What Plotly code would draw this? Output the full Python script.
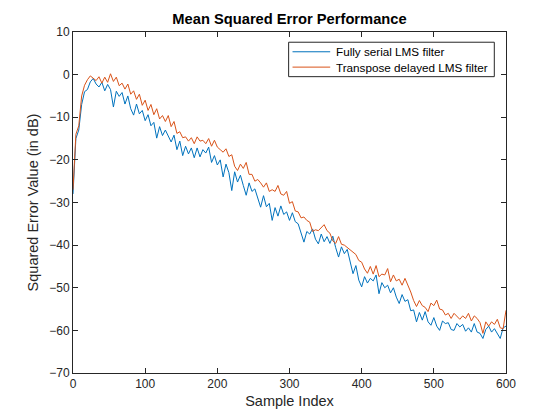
import plotly.graph_objects as go

# Readings every 4 samples (0..600)
fully_serial_db = [
    -28, -15, -13, -7, -4, -3.5, -1.7, -0.9, -2.2, -2.9,
    -1.8, -3.8, -2.3, -3.5, -7.6, -3.9, -5.1, -4.2, -6.9, -5.0,
    -8.0, -9.5, -6.9, -9.2, -8.4, -10.8, -9.4, -12.0, -11.2, -14.9,
    -12.2, -14.3, -13.0, -14.6, -15.8, -14.2, -17.6, -15.6, -19, -16.8,
    -18.6, -17.2, -19.5, -17.2, -19.3, -17.6, -18.4, -17.0, -20.6, -19.0,
    -21.2, -20.0, -24, -21.0, -23.0, -27.2, -22.8, -25.2, -23.6, -26.0,
    -28.3, -25.4, -27.4, -26.8, -29.0, -31.1, -28.4, -31.0, -30.2, -34.2,
    -31.2, -33.2, -30.8, -32.8, -32.2, -34.2, -32.4, -34.5, -35.0, -37.3,
    -39.3, -36.8, -37.4, -36.2, -38.6, -39.7, -37.4, -39.2, -38.0, -39.6,
    -37.9, -40.6, -42.8, -40.4, -42.0, -41.0, -44.2, -46.7, -44.8, -48.2,
    -49.8, -47.4, -48.9, -47.8, -48.4, -47.0, -51.4, -48.8, -50.0, -49.4,
    -51.2, -50.0, -52.2, -53.7, -51.6, -53.2, -52.8, -55.4, -55.2, -58,
    -55.8, -57.6, -55.6, -58.0, -58.8, -57.0, -59.0, -60, -57.8, -58.4,
    -58.2, -59.8, -60, -58.4, -59.2, -58.6, -60.2, -59.4, -60.4, -58.4,
    -60.4, -60.7, -61.9, -59.8, -59.0, -60.4, -59.6, -60.6, -61.9, -59.4,
    -59,
]

transpose_delayed_db = [
    -27, -14, -12, -5, -2.5, -1.2, -0.3, -0.8, -1.4, -0.5,
    -2.0, -0.6, -1.8, 0.2, -1.6, -0.6, -2.6, -2.0, -3.4, -2.2,
    -4.6, -3.8, -5.8, -4.6, -7.2, -6.0, -8.4, -7.0, -9.4, -8.0,
    -10.4, -9.6, -11.0, -9.6, -12.2, -11.0, -13.8, -13.4, -14.8, -14.6,
    -15.6, -14.8, -16.2, -14.6, -15.6, -15.4, -16.2, -15.0, -16.8, -15.4,
    -17.0, -17.6, -18.2, -17.4, -19.2, -18.8, -21.5, -22.5, -21.0, -22.0,
    -20.6, -23.4, -23.4, -25.0, -24.6, -25.4, -26.4, -25.4, -27.4, -27.0,
    -27.4, -26.0, -28.0, -28.3, -27.4, -30.2, -29.8, -32.0, -32.2, -33.6,
    -33.4, -34.2, -34.6, -36.8, -36.4, -36.6, -35.8, -35.2, -36.6, -37.2,
    -39.0, -39.6, -38.0, -39.8, -40.0, -40.6, -41.0, -41.8, -42.2, -43.6,
    -44.0, -45.6, -46.6, -45.0, -46.8, -44.8, -47.4, -46.8, -47.0, -45.5,
    -48.6, -47.0, -48.4, -48.0, -49.4, -47.8, -49.2, -51, -53, -54.4,
    -53.0, -54.2, -54.6, -55.6, -53.6, -54.2, -52.9, -55.0, -55.2, -56.4,
    -56.0, -57.2, -56.0, -56.6, -57.4, -56.6, -57.2, -56.0, -57.8, -56.6,
    -57.2, -58.2, -60.7, -58.0, -59.0, -58.0, -58.6, -57.4, -59.4, -59.6,
    -55.3,
]

sample_index = list(range(0, 601, 4))

series_names = ["Fully serial LMS filter", "Transpose delayed LMS filter"]
series_colors = ["#0072BD", "#D95319"]

x_ticks = [0, 100, 200, 300, 400, 500, 600]
y_ticks = [-70, -60, -50, -40, -30, -20, -10, 0, 10]

FONT = "Liberation Sans, Arial, Helvetica, sans-serif"
AX = "#262626"

fig = go.Figure()
for name, color, vals in zip(series_names, series_colors,
                             [fully_serial_db, transpose_delayed_db]):
    fig.add_trace(go.Scatter(x=sample_index, y=vals, mode="lines", name=name,
                             line=dict(color=color, width=1), showlegend=False))

# MATLAB-style compact legend box (drawn in paper coordinates)
fig.add_shape(type="rect", xref="paper", yref="paper",
              x0=0.498, x1=0.973, y0=0.869, y1=0.970,
              line=dict(color=AX, width=1), fillcolor="white", layer="above")
legend_rows_y = [0.942, 0.897]
for name, color, yy in zip(series_names, series_colors, legend_rows_y):
    fig.add_shape(type="line", xref="paper", yref="paper",
                  x0=0.507, x1=0.594, y0=yy, y1=yy,
                  line=dict(color=color, width=1), layer="above")
    fig.add_annotation(x=0.602, y=yy, xref="paper", yref="paper",
                       text=name, showarrow=False, xanchor="left",
                       yanchor="middle",
                       font=dict(family=FONT, size=11.7, color="black"))

axis_common = dict(showgrid=False, zeroline=False, showline=True, linecolor=AX,
                   linewidth=1, mirror="ticks", ticks="inside", ticklen=5,
                   tickcolor=AX, tickfont=dict(family=FONT, size=12, color=AX))

fig.update_layout(
    width=560, height=420,
    margin=dict(l=65, r=62, t=24, b=55),
    paper_bgcolor="white", plot_bgcolor="white",
    font=dict(family=FONT, color=AX),
    title=dict(text="<b>Mean Squared Error Performance</b>", x=0.5, xref="paper",
               y=1 - 11 / 420, yref="container", yanchor="middle",
               font=dict(family=FONT, size=14.7, color="black")),
    xaxis=dict(range=[0, 600], tickvals=x_ticks,
               title=dict(text="Sample Index", standoff=5,
                          font=dict(family=FONT, size=14.5, color=AX)),
               **axis_common),
    yaxis=dict(range=[-70, 10], tickvals=y_ticks,
               title=dict(text="Squared Error Value (in dB)", standoff=7,
                          font=dict(family=FONT, size=14.5, color=AX)),
               **axis_common),
    showlegend=False,
)

fig.write_html("out.html")
